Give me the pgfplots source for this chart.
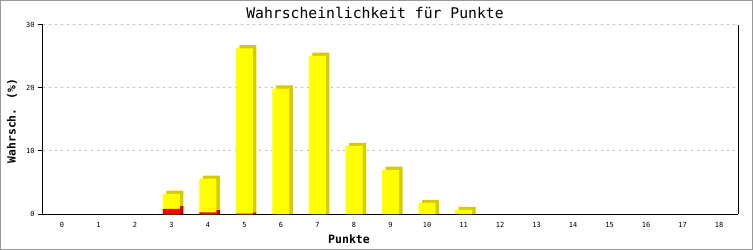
\documentclass[border=0pt]{standalone}
\usepackage{pgfplots}
\pgfplotsset{compat=1.18}
\usepackage{pgfplotstable}
\usepackage{fontspec}
\setmainfont{DejaVu Sans Mono}
\definecolor{byellow}{HTML}{FFFF00}
\definecolor{bside}{HTML}{D4CC00}
\definecolor{bred}{HTML}{FF0000}
\definecolor{bredside}{HTML}{CC0000}
\definecolor{gridgray}{HTML}{BBBBBB}
\definecolor{framegray}{HTML}{999999}
\pgfplotstableread{
x tot side
3 3.2 3.7
4 5.6 6.1
5 26.3 26.8
6 19.9 20.4
7 25.1 25.6
8 10.8 11.3
9 7.0 7.5
10 1.75 2.25
11 0.65 1.15
}\totdata
\pgfplotstableread{
x red side
3 0.8 1.25
4 0.25 0.6
5 0.05 0.2
}\reddata
\begin{document}
\begin{tikzpicture}
\useasboundingbox (0,0) rectangle (753bp,250bp);
\draw[framegray, line width=1bp] (0.5bp,0.5bp) rectangle (752.5bp,249.5bp);
\begin{axis}[
  at={(43bp,36bp)}, anchor=south west,
  scale only axis, width=695bp, height=189bp,
  xmin=-0.52, xmax=18.52, ymin=0, ymax=30,
  axis x line*=bottom, axis y line*=box,
  axis line style={-, black, line width=1bp},
  ytick={0,10,20,30}, ytick pos=left,
  xtick={0,...,18},
  tick align=outside, major tick length=5bp,
  ytick style={black, line width=1bp},
  xtick style={draw=none},
  ymajorgrids,
  y grid style={gridgray, dash pattern=on 2bp off 4bp, line width=1bp},
  tick label style={font=\fontsize{7}{8}\selectfont},
  /pgf/number format/assume math mode=true,
  clip=false,
]
\addplot[ybar, bar width=17bp, bar shift=3.5bp, draw=none, fill=bside] table[x=x, y=side] {\totdata};
\addplot[ybar, bar width=17bp, bar shift=3.5bp, draw=none, fill=bredside] table[x=x, y=side] {\reddata};
\addplot[ybar, bar width=17bp, bar shift=0bp, draw=none, fill=byellow] table[x=x, y=tot] {\totdata};
\addplot[ybar, bar width=17bp, bar shift=0bp, draw=none, fill=bred] table[x=x, y=red] {\reddata};
\end{axis}
\node at (375bp,237bp) {\fontsize{14.8}{16}\selectfont Wahrscheinlichkeit für Punkte};
\node at (349bp,11bp) {\fontsize{11.6}{13}\selectfont\bfseries Punkte};
\node[rotate=90] at (12bp,129bp) {\fontsize{11.4}{13}\selectfont\bfseries Wahrsch. (\%)};
\end{tikzpicture}
\end{document}
